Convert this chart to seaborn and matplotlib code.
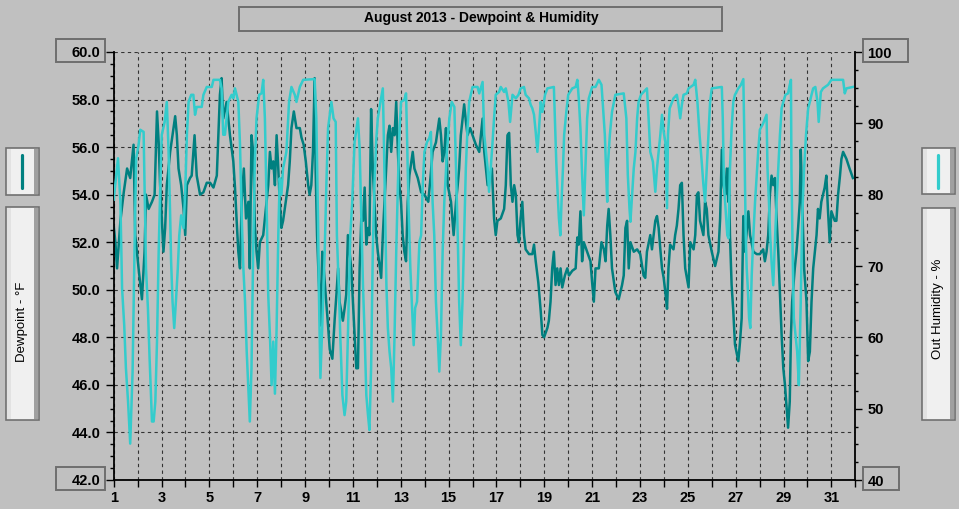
import pandas as pd
import matplotlib
matplotlib.use("Agg")
import matplotlib.pyplot as plt
import seaborn as sns
from matplotlib.patches import Rectangle
from matplotlib.lines import Line2D
from matplotlib.ticker import MultipleLocator, FuncFormatter, FormatStrFormatter

W, H = 959, 509
BG = "#c0c0c0"
DEW_COLOR = "#008080"
HUM_COLOR = "#33cccc"
BOX_EDGE = "#6e6e6e"

TITLE = "August 2013 - Dewpoint & Humidity"
DEW_LABEL = "Dewpoint - °F"
HUM_LABEL = "Out Humidity - %"

# outside humidity, % (day of month)
hum_day = [
    1.00, 1.18, 1.28, 1.35, 1.44, 1.51, 1.60, 1.69,
    1.79, 1.88, 1.94, 2.04, 2.11, 2.25, 2.29, 2.35,
    2.43, 2.50, 2.60, 2.67, 2.74, 2.81, 2.88, 2.94,
    3.01, 3.13, 3.22, 3.29, 3.36, 3.40, 3.46, 3.53,
    3.60, 3.68, 3.74, 3.82, 3.92, 3.99, 4.06, 4.13,
    4.24, 4.33, 4.40, 4.47, 4.68, 4.75, 4.89, 5.10,
    5.17, 5.44, 5.51, 5.58, 5.65, 5.72, 5.79, 5.93,
    6.00, 6.07, 6.21, 6.28, 6.35, 6.42, 6.49, 6.56,
    6.63, 6.69, 6.76, 6.83, 6.90, 6.97, 7.08, 7.18,
    7.25, 7.32, 7.39, 7.46, 7.53, 7.60, 7.67, 7.74,
    7.81, 7.88, 7.94, 8.01, 8.08, 8.22, 8.33, 8.43,
    8.57, 8.64, 8.78, 8.92, 9.40, 9.47, 9.54, 9.58,
    9.64, 9.72, 9.82, 9.89, 9.96, 10.10, 10.19, 10.28,
    10.33, 10.42, 10.47, 10.56, 10.65, 10.72, 10.79, 10.89,
    10.97, 11.07,
    11.21, 11.28, 11.35, 11.42, 11.49, 11.56, 11.63, 11.69,
    11.76, 11.83, 11.90, 11.97, 12.04, 12.15, 12.25, 12.29,
    12.35, 12.40, 12.46, 12.53, 12.60, 12.67, 12.74, 12.81,
    12.88, 12.94, 13.01, 13.15, 13.22, 13.26, 13.32, 13.40,
    13.46, 13.54, 13.60, 13.68, 13.78, 13.85, 13.92, 13.99,
    14.10, 14.19, 14.26, 14.33, 14.40, 14.47, 14.54, 14.61,
    14.68, 14.75, 14.82, 14.93, 15.03, 15.13, 15.24, 15.31,
    15.38, 15.44, 15.51, 15.58, 15.65, 15.72, 15.79, 15.86,
    16.00, 16.21, 16.28, 16.42,
    16.49, 16.56, 16.63, 16.69, 16.76, 16.83, 16.90, 16.97,
    17.11, 17.18, 17.32, 17.39, 17.50, 17.57, 17.67, 17.81,
    17.92, 18.01, 18.15, 18.22, 18.36, 18.43, 18.50, 18.57,
    18.64, 18.71, 18.78, 18.85, 18.92, 19.03, 19.13, 19.40,
    19.44, 19.50, 19.56, 19.61, 19.67, 19.72, 19.78, 19.83,
    19.92, 20.00, 20.17, 20.31, 20.38, 20.44, 20.51, 20.58,
    20.65, 20.72, 20.79, 20.86, 21.00, 21.14, 21.28, 21.39,
    21.44, 21.53, 21.63,
    21.65, 21.74, 21.83, 21.97, 22.32, 22.43, 22.49, 22.56,
    22.60, 22.67, 22.74, 22.81, 22.88, 22.94, 23.04, 23.15,
    23.29, 23.36, 23.43, 23.54, 23.64, 23.71, 23.78, 23.85,
    23.92, 23.99, 24.06, 24.13, 24.17, 24.24, 24.40, 24.54,
    24.61, 24.68, 24.75, 24.82, 24.96, 25.03, 25.24, 25.31,
    25.40, 25.49, 25.58, 25.65, 25.72, 25.79, 25.86, 25.93,
    26.00, 26.42, 26.46, 26.51, 26.60, 26.65, 26.70,
    26.76, 26.83, 26.90, 26.97, 27.11, 27.22, 27.32, 27.36,
    27.42, 27.46, 27.50, 27.56, 27.61, 27.67, 27.74, 27.81,
    27.88, 27.94, 28.01, 28.15, 28.29, 28.33, 28.39, 28.44,
    28.50, 28.57, 28.64, 28.71, 28.78, 28.85, 28.92, 28.99,
    29.08, 29.19, 29.26, 29.31, 29.33, 29.38, 29.43, 29.50,
    29.57, 29.64, 29.72, 29.78, 29.86, 29.94, 30.03, 30.10,
    30.17, 30.24, 30.33, 30.42, 30.47, 30.56, 30.65, 30.86,
    31.00, 31.49, 31.56, 31.63, 31.90,
]
hum_pct = [
    79.3, 85.1, 79.0, 66.9, 61.7, 55.7, 51.0, 45.1,
    55.2, 74.3, 85.1, 87.0, 89.1, 88.8, 81.4, 69.7,
    64.1, 57.1, 48.2, 48.2, 51.0, 59.4, 72.0, 80.4,
    88.4, 90.2, 93.0, 86.5, 77.1, 70.6, 65.0, 61.3,
    65.0, 69.7, 74.3, 77.1, 75.3, 80.4, 88.4, 93.0,
    94.0, 94.0, 91.2, 92.3, 92.3, 94.0, 95.1, 95.1,
    96.1, 96.1, 94.9, 88.4, 88.4, 90.7, 93.0, 94.0,
    93.5, 94.9, 93.0, 87.0, 77.1, 69.7, 65.0, 58.0,
    52.9, 48.2, 55.7, 72.0, 84.6, 90.7, 94.0, 94.2,
    96.1, 90.7, 79.0, 65.9, 60.3, 53.3, 59.4, 52.1,
    61.3, 74.3, 82.3, 80.0, 83.7, 86.0, 93.0, 95.1,
    94.0, 93.0, 95.1, 96.1, 96.2, 90.7, 76.7, 65.9,
    54.3, 61.7, 72.0, 81.4, 89.3, 93.0, 90.7, 90.2,
    74.3, 65.9, 60.3, 51.9, 49.1, 51.0, 60.3, 74.3,
    79.0, 87.4,
    90.7, 86.5, 76.7, 67.3, 60.3, 51.9, 49.1, 47.0,
    55.7, 72.0, 81.4, 87.4, 90.7, 93.0, 94.9, 88.4,
    76.7, 67.3, 61.3, 58.0, 55.7, 51.0, 60.3, 72.0,
    81.4, 88.4, 93.0, 93.3, 94.2, 88.4, 79.0, 69.7,
    65.0, 58.9, 64.1, 65.0, 73.4, 74.3, 81.4, 86.0,
    87.4, 87.9, 88.8, 79.0, 74.3, 65.0, 60.3, 55.2,
    60.3, 72.0, 79.0, 86.0, 90.7, 93.0, 92.3, 83.7,
    74.3, 65.0, 58.9, 65.0, 74.3, 83.7, 89.3, 93.0,
    95.1, 95.1, 94.2, 95.8,
    88.4, 86.0, 83.7, 80.4, 83.7, 87.0, 90.7, 94.0,
    94.4, 95.1, 94.4, 94.9, 93.0, 90.2, 94.0, 93.5,
    94.0, 94.9, 95.1, 94.0, 93.5, 92.6, 92.1, 91.2,
    88.8, 86.0, 89.3, 93.0, 91.6, 94.0, 94.9, 95.1,
    90.7, 84.6, 80.0, 76.7, 74.3, 79.0, 83.7, 88.4,
    91.6, 94.0, 94.9, 95.1, 96.1, 93.5, 89.3, 82.8,
    77.1, 83.7, 90.7, 93.5, 95.1, 95.1, 96.1, 95.4,
    93.0, 88.4, 79.0,
    83.7, 88.4, 91.6, 94.0, 94.2, 90.7, 82.8, 78.1,
    76.2, 80.0, 83.7, 86.0, 90.7, 93.0, 94.0, 94.4,
    94.9, 90.7, 86.0, 84.6, 80.4, 83.7, 86.0, 88.4,
    91.2, 88.8, 87.4, 78.1, 88.4, 92.1, 93.5, 94.0,
    92.6, 90.7, 92.6, 94.0, 94.2, 94.9, 95.4, 96.1,
    93.0, 88.4, 84.6, 81.4, 79.0, 83.7, 88.4, 93.0,
    94.9, 95.1, 90.7, 81.4, 76.7, 74.3, 73.9,
    83.7, 89.3, 93.0, 94.0, 94.9, 95.4, 96.2, 88.4,
    74.3, 69.7, 67.3, 62.7, 61.3, 68.7, 74.3, 79.0,
    82.8, 86.0, 89.1, 90.0, 91.2, 83.7, 79.0, 74.3,
    70.6, 67.3, 73.4, 79.0, 83.7, 88.4, 92.1, 93.0,
    94.0, 94.2, 95.4, 96.1, 83.7, 72.0, 62.7, 60.3,
    58.0, 53.3, 65.0, 76.7, 83.7, 88.4, 92.1, 93.0,
    94.0, 94.9, 95.1, 93.0, 90.2, 94.4, 94.9, 95.4,
    96.1, 96.1, 94.2, 94.9, 95.1,
]

# dewpoint, deg F
dew_day = [
    1.00, 1.07, 1.14, 1.28, 1.42, 1.56, 1.69, 1.83,
    1.90, 1.97, 2.04, 2.18, 2.29, 2.35, 2.46, 2.60,
    2.71, 2.81, 2.88, 2.94, 3.01, 3.08, 3.15, 3.22,
    3.36, 3.50, 3.57, 3.64, 3.71, 3.82, 3.92, 3.99,
    4.06, 4.19, 4.26, 4.38, 4.47, 4.61, 4.75, 4.89,
    5.03, 5.17, 5.31, 5.44, 5.51, 5.58, 5.72, 5.86,
    6.00,
    6.07, 6.14, 6.21, 6.28, 6.35, 6.44, 6.53, 6.63,
    6.69, 6.76, 6.83, 6.90, 6.97, 7.04, 7.11, 7.25,
    7.39, 7.46, 7.53, 7.60, 7.67, 7.74, 7.81, 7.88,
    7.94, 8.01, 8.08, 8.15, 8.29, 8.36, 8.43, 8.53,
    8.64, 8.78, 8.85, 8.94, 9.03, 9.13, 9.19, 9.26,
    9.33, 9.40, 9.44, 9.50, 9.58, 9.64, 9.72, 9.78,
    9.86, 9.96, 10.03, 10.14, 10.24, 10.31, 10.38, 10.44,
    10.58, 10.65, 10.72, 10.79, 10.86, 10.93, 11.00, 11.14,
    11.21, 11.28, 11.35, 11.42, 11.49, 11.56, 11.63, 11.69,
    11.76, 11.83, 11.90, 11.97, 12.04, 12.18, 12.25, 12.32,
    12.39, 12.46, 12.53, 12.60, 12.67, 12.74, 12.81, 12.88,
    12.94, 13.01, 13.08, 13.15, 13.22, 13.29, 13.36, 13.50,
    13.57, 13.71, 13.85, 13.99, 14.15, 14.24, 14.33, 14.47,
    14.61, 14.68, 14.75, 14.82, 14.89, 14.96, 15.10, 15.21,
    15.31, 15.38, 15.44, 15.51, 15.65, 15.72, 15.79, 15.90,
    16.00, 16.14, 16.28,
    16.42, 16.49, 16.56, 16.63, 16.81, 16.90, 16.97, 17.04,
    17.18, 17.32, 17.39, 17.46, 17.53, 17.60, 17.67, 17.74,
    17.81, 17.88, 17.94, 18.01, 18.08, 18.15, 18.22, 18.36,
    18.50, 18.57, 18.64, 18.75, 18.85, 18.92, 18.99, 19.13,
    19.19, 19.26, 19.33, 19.40, 19.47, 19.54, 19.61, 19.68,
    19.75, 19.86, 19.96, 20.03, 20.17, 20.31, 20.38, 20.44,
    20.51, 20.58, 20.65, 20.79, 20.93, 21.00, 21.07, 21.14,
    21.28, 21.39, 21.49, 21.56,
    21.63, 21.69, 21.76, 21.83, 21.97, 22.11, 22.25, 22.32,
    22.39, 22.46, 22.53, 22.60, 22.74, 22.88, 23.01, 23.15,
    23.22, 23.29, 23.43, 23.50, 23.64, 23.71, 23.78, 23.85,
    23.92, 23.99, 24.06, 24.13, 24.19, 24.26, 24.40, 24.47,
    24.54, 24.61, 24.68, 24.75, 24.82, 24.89, 25.03, 25.10,
    25.24, 25.31, 25.38, 25.44, 25.51, 25.65, 25.72, 25.79,
    25.86, 26.00, 26.14, 26.28, 26.35, 26.42, 26.49, 26.56,
    26.63, 26.69,
    26.72, 26.76, 26.83, 26.90, 26.97, 27.11, 27.18, 27.25,
    27.32, 27.39, 27.53, 27.60, 27.74, 27.88, 28.01, 28.15,
    28.22, 28.29, 28.36, 28.43, 28.50, 28.57, 28.64, 28.71,
    28.78, 28.85, 28.92, 28.99, 29.06, 29.13, 29.19, 29.26,
    29.31, 29.36, 29.47, 29.54, 29.61, 29.68, 29.72, 29.78,
    29.86, 29.96, 30.03, 30.10, 30.17, 30.24, 30.31, 30.38,
    30.44, 30.51, 30.58, 30.72, 30.79, 30.86, 30.93, 31.00,
    31.14, 31.21, 31.28, 31.36, 31.42, 31.49, 31.63, 31.76,
    31.90,
]
dew_f = [
    52.7, 52.0, 50.9, 52.9, 54.1, 55.1, 54.7, 56.1,
    52.3, 51.6, 50.9, 49.6, 51.6, 54.0, 53.4, 53.7,
    54.0, 57.5, 56.2, 54.4, 53.0, 51.6, 52.6, 54.4,
    55.8, 56.8, 57.3, 56.5, 55.1, 54.4, 53.4, 52.3,
    54.4, 54.7, 54.8, 56.5, 54.8, 54.0, 54.1, 54.5,
    54.5, 54.3, 54.8, 58.2, 58.9, 57.2, 57.9, 56.5,
    55.4,
    54.3, 52.9, 51.6, 50.9, 53.7, 55.1, 53.0, 53.7,
    50.9, 56.5, 55.8, 52.7, 51.6, 50.9, 52.0, 52.3,
    53.7, 54.4, 55.8, 55.1, 55.4, 54.4, 56.5, 55.1,
    53.7, 52.6, 52.9, 53.4, 54.4, 55.4, 56.8, 57.5,
    56.8, 56.8, 56.4, 56.1, 55.4, 54.4, 54.0, 54.4,
    55.8, 58.9, 55.1, 52.3, 50.2, 48.5, 51.6, 50.9,
    49.8, 48.5, 47.5, 47.1, 48.8, 49.8, 50.9, 49.5,
    48.7, 49.2, 49.8, 52.3, 51.6, 50.9, 49.5, 46.7,
    46.7, 50.9, 53.0, 52.9, 54.3, 51.9, 52.6, 52.3,
    57.6, 55.1, 53.7, 52.3, 51.6, 50.5, 52.3, 53.7,
    55.1, 56.5, 56.9, 55.8, 56.8, 56.5, 57.9, 55.8,
    54.4, 53.7, 52.3, 51.6, 51.2, 53.7, 54.8, 55.8,
    55.1, 54.7, 54.1, 54.0, 53.7, 54.7, 55.8, 56.2,
    57.2, 56.5, 55.4, 55.8, 56.8, 54.4, 53.7, 52.3,
    53.7, 54.4, 55.1, 56.5, 57.8, 57.1, 56.5, 56.8,
    56.5, 56.1, 55.8,
    57.2, 55.8, 55.1, 54.4, 55.1, 53.0, 52.3, 52.9,
    53.0, 53.4, 54.4, 56.5, 56.6, 54.4, 53.7, 54.4,
    54.0, 52.3, 52.0, 53.0, 53.7, 52.3, 51.7, 51.5,
    51.5, 51.9, 51.2, 50.3, 49.1, 48.1, 48.0, 48.4,
    48.7, 49.5, 50.9, 51.6, 50.2, 50.9, 50.2, 50.9,
    50.1, 50.6, 50.9, 50.6, 50.8, 50.9, 52.2, 51.9,
    53.3, 51.2, 52.0, 51.6, 51.2, 50.3, 49.5, 50.9,
    50.9, 52.0, 51.7, 51.2,
    52.7, 53.4, 52.3, 50.9, 49.9, 49.6, 50.2, 50.6,
    52.6, 52.9, 50.9, 52.0, 51.6, 51.7, 51.5, 50.6,
    50.5, 51.6, 52.3, 51.7, 52.9, 53.1, 52.6, 51.7,
    50.9, 50.5, 49.9, 49.2, 50.9, 51.9, 51.7, 52.3,
    52.7, 53.4, 54.4, 54.5, 52.3, 50.9, 50.1, 52.0,
    51.7, 52.3, 54.0, 54.1, 52.9, 52.3, 53.7, 53.4,
    52.3, 51.6, 51.0, 51.6, 53.0, 55.9, 54.4, 54.0,
    55.1, 53.7,
    55.1, 52.3, 50.2, 49.1, 47.7, 47.0, 47.8, 48.8,
    53.1, 51.6, 53.3, 52.3, 51.6, 51.5, 51.5, 51.7,
    51.2, 51.6, 52.3, 54.0, 54.8, 54.4, 54.7, 53.0,
    51.6, 49.9, 48.1, 46.7, 46.0, 45.0, 44.2, 45.3,
    48.1, 49.5, 50.9, 51.6, 52.6, 53.7, 55.9, 53.7,
    50.9, 49.5, 47.0, 47.4, 49.5, 50.9, 51.6, 52.3,
    53.4, 53.0, 53.7, 54.3, 54.8, 53.3, 52.0, 53.3,
    52.9, 52.9, 54.0, 54.8, 55.5, 55.8, 55.5, 55.1,
    54.7,
]


def px_rect(fig, x0, y0, x1, y1, **kw):
    # rectangle given in image pixels (origin top-left)
    return Rectangle((x0 / W, 1 - y1 / H), (x1 - x0) / W, (y1 - y0) / H,
                     transform=fig.transFigure, **kw)


def legend_panel(fig, x0, y0, x1, y1):
    fig.add_artist(px_rect(fig, x0, y0, x1, y1, facecolor="#f0f0f0",
                           edgecolor="#707070", linewidth=1.2))
    fig.add_artist(px_rect(fig, x0 + 1, y0 + 1, x0 + 5, y1 - 1,
                           facecolor="#e2e2e2", edgecolor="none"))
    fig.add_artist(px_rect(fig, x1 - 5, y0 + 1, x1 - 1, y1 - 1,
                           facecolor="#a0a0a0", edgecolor="none"))


def main():
    plt.rcParams["font.family"] = ["Liberation Sans", "DejaVu Sans"]
    plt.rcParams["font.weight"] = "bold"

    dew = pd.DataFrame({"day": dew_day, "dewpoint": dew_f})
    hum = pd.DataFrame({"day": hum_day, "humidity": hum_pct})

    fig = plt.figure(figsize=(W / 100, H / 100), dpi=100, facecolor=BG)
    ax = fig.add_axes([113.7 / W, 1 - 480 / H, (855.3 - 113.7) / W, 428 / H])
    ax.set_facecolor(BG)
    ax2 = ax.twinx()

    sns.lineplot(data=dew, x="day", y="dewpoint", ax=ax, color=DEW_COLOR,
                 linewidth=1.8, estimator=None, sort=False)
    sns.lineplot(data=hum, x="day", y="humidity", ax=ax2, color=HUM_COLOR,
                 linewidth=1.8, estimator=None, sort=False)

    ax.set_xlim(1, 32)
    ax.set_ylim(42, 60)
    ax2.set_ylim(40, 100)
    for a in (ax, ax2):
        a.set_xlabel("")
        a.set_ylabel("")

    ax.xaxis.set_major_locator(MultipleLocator(1))
    ax.xaxis.set_major_formatter(FuncFormatter(
        lambda v, p: str(int(round(v))) if int(round(v)) % 2 == 1 else ""))
    ax.yaxis.set_major_locator(MultipleLocator(2))
    ax.yaxis.set_minor_locator(MultipleLocator(0.5))
    ax.yaxis.set_major_formatter(FormatStrFormatter("%.1f"))
    ax2.yaxis.set_major_locator(MultipleLocator(10))
    ax2.yaxis.set_minor_locator(MultipleLocator(2.5))
    ax2.yaxis.set_major_formatter(FormatStrFormatter("%d"))

    ax.tick_params(axis="y", which="major", length=5.5, width=1, pad=4, labelsize=10.5)
    ax.tick_params(axis="y", which="minor", length=2.7, width=1)
    ax.tick_params(axis="x", which="major", length=5, width=1, pad=3, labelsize=10.5)
    ax2.tick_params(axis="y", which="major", length=5.3, width=1, pad=3.5, labelsize=10.5)
    ax2.tick_params(axis="y", which="minor", length=2.5, width=1)

    ax.grid(True, which="major", axis="both", color="#333333",
            linestyle=(0, (3, 3)), linewidth=0.8)

    ax.spines["top"].set_visible(False)
    ax.spines["right"].set_visible(False)
    for s in ("top", "left", "bottom"):
        ax2.spines[s].set_visible(False)
    for sp in (ax.spines["left"], ax.spines["bottom"], ax2.spines["right"]):
        sp.set_linewidth(1.3)
        sp.set_color("black")

    # boxed end values and title frame
    for x0, y0, x1, y1 in [(56.3, 39.3, 104.7, 62.3), (56.3, 467, 104.7, 490.3),
                           (863.3, 39.3, 907.7, 62.3), (863.3, 467.3, 899.3, 490),
                           (239.3, 7.3, 722.3, 31.3)]:
        fig.add_artist(px_rect(fig, x0, y0, x1, y1, facecolor="none",
                               edgecolor=BOX_EDGE, linewidth=1.4))
    fig.text(481 / W, 1 - 18 / H, TITLE, ha="center", va="center",
             fontsize=10, fontweight="bold")

    # series key panels on both sides
    legend_panel(fig, 6.3, 148, 38.7, 194.7)
    legend_panel(fig, 6.3, 207.3, 38.7, 420)
    legend_panel(fig, 922.3, 148.3, 954.5, 194.3)
    legend_panel(fig, 922.3, 207.7, 954.5, 420)
    fig.add_artist(Line2D([22.3 / W, 22.3 / W], [1 - 155 / H, 1 - 188 / H],
                          transform=fig.transFigure, color=DEW_COLOR,
                          linewidth=2.3, solid_capstyle="round"))
    fig.add_artist(Line2D([938.4 / W, 938.4 / W], [1 - 155 / H, 1 - 188 / H],
                          transform=fig.transFigure, color=HUM_COLOR,
                          linewidth=2.3, solid_capstyle="round"))
    fig.text(22 / W, 1 - 322 / H, DEW_LABEL, rotation=90, ha="center",
             va="center", fontsize=9.5, fontweight="normal")
    fig.text(938.4 / W, 1 - 309 / H, HUM_LABEL, rotation=90, ha="center",
             va="center", fontsize=9.5, fontweight="normal")

    fig.savefig("out.png", dpi=100, facecolor=BG)


if __name__ == "__main__":
    main()
